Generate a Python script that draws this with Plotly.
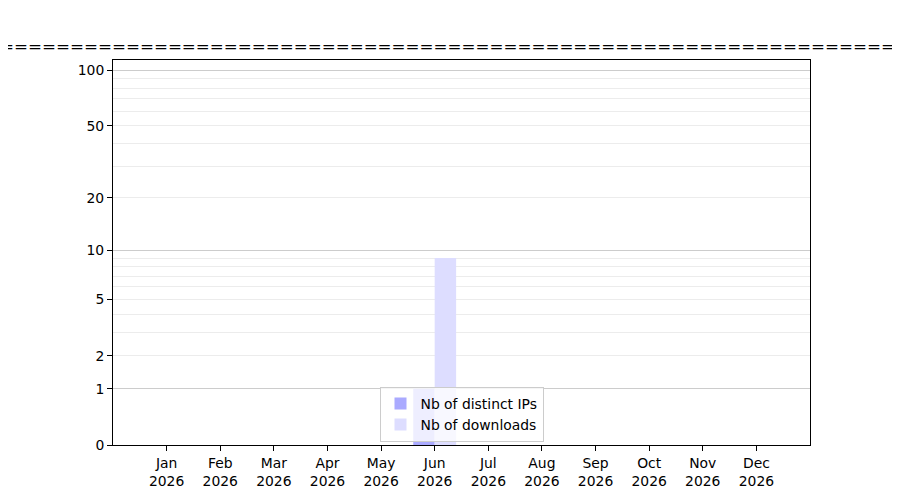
import math

import plotly.graph_objects as go

months = ["Jan", "Feb", "Mar", "Apr", "May", "Jun",
          "Jul", "Aug", "Sep", "Oct", "Nov", "Dec"]
year = "2026"
distinct_ips = [0, 0, 0, 0, 0, 1, 0, 0, 0, 0, 0, 0]
downloads = [0, 0, 0, 0, 0, 9, 0, 0, 0, 0, 0, 0]

# y axis is a log(1 + n) scale, so labels sit at n and bars start from base 1
y_labels = [0, 1, 2, 5, 10, 20, 50, 100]
y_major_grid = [1, 10, 100]
y_minor_grid = [2, 3, 4, 5, 6, 7, 8, 9, 20, 30, 40, 50, 60, 70, 80, 90]
y_top = 113.5

title_text = "=" * 130
x_labels = [f"{m}<br>{year}" for m in months]
font = dict(family="DejaVu Sans", size=13.9, color="black")

fig = go.Figure()
fig.add_trace(go.Bar(
    x=x_labels, y=distinct_ips, base=1,
    name="Nb of distinct IPs",
    width=0.4, offset=-0.4,
    marker=dict(color="#aaaaff", line=dict(width=0)),
))
fig.add_trace(go.Bar(
    x=x_labels, y=downloads, base=1,
    name="Nb of downloads",
    width=0.4, offset=0,
    marker=dict(color="#ddddff", line=dict(width=0)),
))
# invisible trace to attach the darker major grid axis
fig.add_trace(go.Scatter(x=[x_labels[0]], y=[1], yaxis="y2", mode="markers",
                         marker=dict(opacity=0), showlegend=False, hoverinfo="skip"))

log_range = [0, math.log10(1 + y_top)]

# the page body adds an 8px offset, margins are trimmed to compensate
fig.update_layout(
    width=900, height=500,
    margin=dict(l=105, r=98, t=52, b=63),
    paper_bgcolor="white", plot_bgcolor="white",
    font=font,
    barmode="overlay",
    title=dict(
        text=title_text, x=0.5, xref="paper", xanchor="center",
        y=1 - 38 / 500, yref="container", yanchor="middle",
        font=dict(family="DejaVu Sans", size=16.7, color="black"),
    ),
    legend=dict(
        x=0.5, y=0.008, xanchor="center", yanchor="bottom",
        bgcolor="rgba(255,255,255,0.8)", bordercolor="#cccccc", borderwidth=1,
        font=font, tracegroupgap=0,
    ),
    showlegend=True,
)
fig.update_xaxes(
    type="category", range=[-1, 12],
    showgrid=False, showline=True, mirror=True, linecolor="black", linewidth=1,
    ticks="outside", ticklen=5, tickcolor="black", tickfont=font,
)
fig.update_yaxes(
    type="log", range=log_range,
    tickmode="array", tickvals=[v + 1 for v in y_labels],
    ticktext=[str(v) for v in y_labels],
    showgrid=True, gridcolor="#ececec", gridwidth=1,
    minor=dict(tickmode="array", tickvals=[v + 1 for v in y_minor_grid],
               showgrid=True, gridcolor="#ececec", gridwidth=1, ticks=""),
    showline=True, mirror=True, linecolor="black", linewidth=1,
    ticks="outside", ticklen=5, tickcolor="black", tickfont=font,
    zeroline=False,
)
fig.update_layout(yaxis2=dict(
    type="log", range=log_range, overlaying="y", side="left",
    tickmode="array", tickvals=[v + 1 for v in y_major_grid],
    showticklabels=False, ticks="", showline=False,
    showgrid=True, gridcolor="#cccccc", gridwidth=1, zeroline=False,
))

fig.write_html("out.html")
